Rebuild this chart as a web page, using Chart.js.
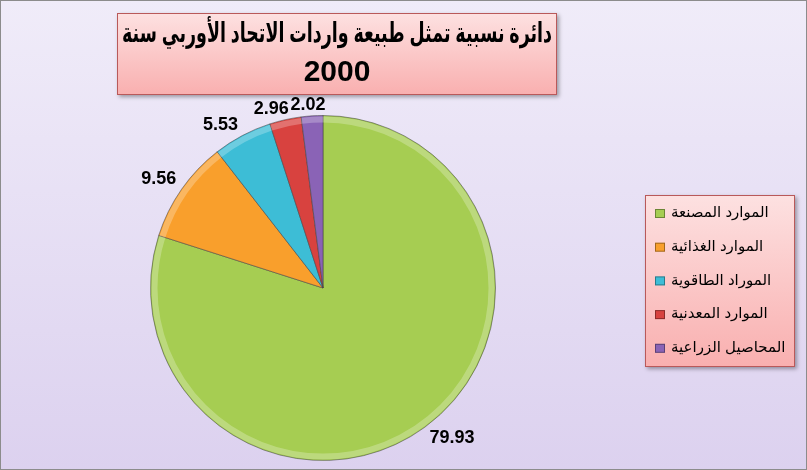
<!DOCTYPE html>
<html>
<head>
<meta charset="utf-8">
<script src="https://cdn.jsdelivr.net/npm/chart.js@4"></script>
<style>
  html, body { margin: 0; padding: 0; background: #fff; }
  #wrap { position: relative; width: 807px; height: 470px; }
</style>
</head>
<body>
<div id="wrap"><canvas id="pie" width="807" height="470"></canvas></div>
<script>
// chart data
const titleLines = ["دائرة نسبية تمثل طبيعة واردات الاتحاد الأوربي سنة", "2000"];
const labels = ["الموارد المصنعة", "الموارد الغذائية", "الموراد الطاقوية", "الموارد المعدنية", "المحاصيل الزراعية"];
const values = [79.93, 9.56, 5.53, 2.96, 2.02];
const sliceColors = ["#a6cd52", "#f99f2c", "#3dbdd6", "#d8423f", "#8a63b6"];

const FONT = "Arial, 'Liberation Sans', 'DejaVu Sans', sans-serif";

// background + outer frame
const bgPlugin = {
  id: "bg",
  beforeDraw(chart) {
    const ctx = chart.ctx;
    const g = ctx.createLinearGradient(0, 0, 0, chart.height);
    g.addColorStop(0, "#f0ecf9");
    g.addColorStop(1, "#dcd1ef");
    ctx.save();
    ctx.fillStyle = g;
    ctx.fillRect(0, 0, chart.width, chart.height);
    ctx.strokeStyle = "#8c8c8c";
    ctx.lineWidth = 1;
    ctx.strokeRect(0.5, 0.5, chart.width - 1, chart.height - 1);
    ctx.restore();
  }
};

function pinkBox(ctx, x, y, w, h) {
  ctx.save();
  ctx.shadowColor = "rgba(0,0,0,0.35)";
  ctx.shadowBlur = 4;
  ctx.shadowOffsetX = 2;
  ctx.shadowOffsetY = 2;
  const g = ctx.createLinearGradient(0, y, 0, y + h);
  g.addColorStop(0, "#fde1e1");
  g.addColorStop(1, "#f9afaf");
  ctx.fillStyle = g;
  ctx.fillRect(x, y, w, h);
  ctx.restore();
  ctx.save();
  ctx.strokeStyle = "#b9595a";
  ctx.lineWidth = 1;
  ctx.strokeRect(x + 0.5, y + 0.5, w - 1, h - 1);
  ctx.restore();
}

// title box
const titlePlugin = {
  id: "titleBox",
  afterDraw(chart) {
    const ctx = chart.ctx;
    pinkBox(ctx, 117, 13, 440, 82);
    ctx.save();
    ctx.fillStyle = "#000";
    ctx.textAlign = "center";
    ctx.textBaseline = "middle";
    ctx.font = "bold 27px " + FONT;
    ctx.direction = "rtl";
    ctx.fillText(titleLines[0], 337, 35, 430);
    ctx.direction = "ltr";
    ctx.font = "bold 30px " + FONT;
    ctx.fillText(titleLines[1], 337, 73);
    ctx.restore();
  }
};

// legend box
const legendPlugin = {
  id: "legendBox",
  afterDraw(chart) {
    const ctx = chart.ctx;
    const ds = chart.data.datasets[0];
    pinkBox(ctx, 645, 195, 150, 172);
    ctx.save();
    chart.data.labels.forEach((lab, i) => {
      const y = 213 + i * 33.7;
      ctx.fillStyle = ds.backgroundColor[i];
      ctx.fillRect(655, y - 4, 10, 9);
      ctx.strokeStyle = "rgba(0,0,0,0.35)";
      ctx.strokeRect(655.5, y - 3.5, 9, 8);
      ctx.fillStyle = "#000";
      ctx.font = "15px " + FONT;
      ctx.textBaseline = "middle";
      ctx.direction = "rtl";
      ctx.textAlign = "left";
      ctx.fillText(lab, 671, y);
    });
    ctx.restore();
  }
};

// slice bevel highlight
const bevelPlugin = {
  id: "bevel",
  afterDatasetsDraw(chart) {
    const ctx = chart.ctx;
    const meta = chart.getDatasetMeta(0);
    meta.data.forEach(arc => {
      const p = arc.getProps(["x", "y", "startAngle", "endAngle", "outerRadius"], true);
      ctx.save();
      ctx.beginPath();
      ctx.moveTo(p.x, p.y);
      ctx.arc(p.x, p.y, p.outerRadius, p.startAngle, p.endAngle);
      ctx.closePath();
      ctx.clip();
      ctx.strokeStyle = "rgba(255,255,255,0.25)";
      ctx.lineWidth = 6;
      ctx.beginPath();
      ctx.arc(p.x, p.y, p.outerRadius - 4, p.startAngle, p.endAngle);
      ctx.stroke();
      ctx.restore();
    });
  }
};

// value labels outside the slices (drawn last so they sit above the title box)
const valuePlugin = {
  id: "valueLabels",
  afterDraw(chart) {
    const ctx = chart.ctx;
    const meta = chart.getDatasetMeta(0);
    ctx.save();
    ctx.font = "bold 18px " + FONT;
    ctx.fillStyle = "#000";
    ctx.textAlign = "center";
    ctx.textBaseline = "middle";
    const clamp = v => Math.max(-1, Math.min(1, v));
    meta.data.forEach((arc, i) => {
      const p = arc.getProps(["x", "y", "startAngle", "endAngle", "outerRadius"], true);
      const mid = (p.startAngle + p.endAngle) / 2;
      const r = p.outerRadius + 3;
      const cx = p.x + Math.cos(mid) * r;
      const cy = p.y + Math.sin(mid) * r;
      const txt = values[i].toFixed(2);
      const w = ctx.measureText(txt).width + 6;
      const h = 16;
      const lx = cx + clamp(Math.cos(mid) * 3) * w / 2;
      const ly = cy + clamp(Math.sin(mid) * 3) * h / 2;
      ctx.fillText(txt, lx, ly);
    });
    ctx.restore();
  }
};

new Chart(document.getElementById("pie"), {
  type: "pie",
  plugins: [bgPlugin, bevelPlugin, titlePlugin, legendPlugin, valuePlugin],
  data: {
    labels: labels,
    datasets: [{
      data: values,
      backgroundColor: sliceColors,
      borderColor: "rgba(70,70,70,0.55)",
      borderWidth: 1
    }]
  },
  options: {
    responsive: false,
    animation: false,
    layout: { padding: { left: 150, right: 311, top: 115, bottom: 9 } },
    plugins: {
      legend: { display: false },
      title: { display: false },
      tooltip: { enabled: false }
    }
  }
});
</script>
</body>
</html>
